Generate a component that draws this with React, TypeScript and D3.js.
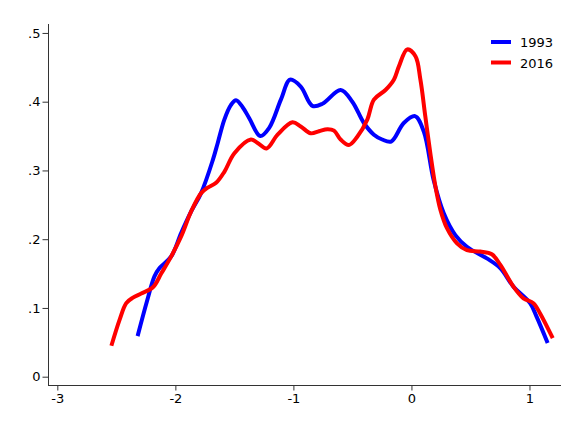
import { useRef, useEffect } from 'react';
import * as d3 from 'd3';

const X_1993 = [-2.32, -2.24, -2.177, -2.134, -2.035, -1.951, -1.867, -1.782, -1.683, -1.641, -1.585, -1.53, -1.486, -1.43, -1.374, -1.281, -1.205, -1.106, -1.028, -0.938, -0.839, -0.754, -0.6, -0.501, -0.403, -0.318, -0.248, -0.172, -0.065, 0.03, 0.104, 0.188, 0.273, 0.372, 0.47, 0.639, 0.752, 0.864, 1.005, 1.061, 1.154];
const Y_1993 = [0.059, 0.11, 0.146, 0.158, 0.175, 0.209, 0.24, 0.267, 0.315, 0.34, 0.374, 0.395, 0.402, 0.392, 0.376, 0.35, 0.362, 0.403, 0.432, 0.422, 0.394, 0.397, 0.417, 0.4, 0.369, 0.352, 0.345, 0.342, 0.369, 0.379, 0.357, 0.286, 0.238, 0.206, 0.189, 0.172, 0.158, 0.131, 0.107, 0.087, 0.049];

const X_2016 = [-2.542, -2.472, -2.416, -2.359, -2.289, -2.19, -2.12, -2.035, -1.951, -1.867, -1.782, -1.726, -1.655, -1.585, -1.5, -1.36, -1.303, -1.227, -1.134, -1.008, -0.938, -0.853, -0.783, -0.712, -0.656, -0.6, -0.53, -0.459, -0.374, -0.318, -0.22, -0.149, -0.107, -0.036, 0.034, 0.076, 0.118, 0.16, 0.203, 0.245, 0.301, 0.386, 0.47, 0.583, 0.681, 0.752, 0.864, 0.949, 1.033, 1.09, 1.197];
const Y_2016 = [0.045, 0.083, 0.107, 0.115, 0.121, 0.13, 0.15, 0.175, 0.204, 0.24, 0.267, 0.275, 0.282, 0.298, 0.325, 0.345, 0.34, 0.332, 0.352, 0.37, 0.364, 0.354, 0.357, 0.36, 0.358, 0.345, 0.337, 0.349, 0.374, 0.403, 0.417, 0.432, 0.451, 0.476, 0.466, 0.432, 0.378, 0.325, 0.277, 0.243, 0.216, 0.194, 0.184, 0.182, 0.178, 0.163, 0.131, 0.114, 0.107, 0.092, 0.056];

const SERIES = [
  { name: '1993', color: '#0000ff', xs: X_1993, ys: Y_1993 },
  { name: '2016', color: '#ff0000', xs: X_2016, ys: Y_2016 },
];

const X_TICKS = [-3, -2, -1, 0, 1];
const Y_TICKS = [0, 0.1, 0.2, 0.3, 0.4, 0.5];

export default function App() {
  const svgRef = useRef<SVGSVGElement>(null);
  const width = 568;
  const height = 421;

  useEffect(() => {
    const svg = d3.select(svgRef.current);
    svg.selectAll('*').remove();

    const x = d3.scaleLinear().domain([-3.079, 1.267]).range([48, 561]);
    const y = d3.scaleLinear().domain([-0.0131, 0.513]).range([385.7, 24]);

    svg.append('rect').attr('width', width).attr('height', height).attr('fill', '#fff');

    // axes
    const fmt = (d: number) => (d === 0 ? '0' : d3.format('.1f')(d).replace(/^0/, ''));
    svg.append('g')
      .attr('transform', 'translate(0,385.5)')
      .call(d3.axisBottom(x).tickValues(X_TICKS).tickSize(5).tickPadding(3).tickFormat((d) => String(d)))
      .call((g) => g.select('.domain').attr('stroke', '#333').attr('d', `M48,0H561`))
      .call((g) => g.selectAll('.tick line').attr('stroke', '#333'))
      .call((g) => g.selectAll('text').attr('fill', '#000').style('font-family', 'DejaVu Sans').style('font-size', '13px'));

    svg.append('g')
      .attr('transform', 'translate(48.5,0)')
      .call(d3.axisLeft(y).tickValues(Y_TICKS).tickSize(6).tickPadding(2).tickFormat((d) => fmt(+d)))
      .call((g) => g.select('.domain').attr('stroke', '#333').attr('d', `M0,24V385.7`))
      .call((g) => g.selectAll('.tick line').attr('stroke', '#333'))
      .call((g) => g.selectAll('text').attr('fill', '#000').style('font-family', 'DejaVu Sans').style('font-size', '13px'));

    // curves
    SERIES.forEach((s) => {
      const pts = s.xs.map((v, i) => [v, s.ys[i]] as [number, number]);
      const line = d3.line<[number, number]>()
        .x((d) => x(d[0]))
        .y((d) => y(d[1]))
        .curve(d3.curveCatmullRom.alpha(0.5));
      svg.append('path')
        .datum(pts)
        .attr('d', line)
        .attr('fill', 'none')
        .attr('stroke', s.color)
        .attr('stroke-width', 4)
        .attr('stroke-linejoin', 'round');
    });

    // legend
    const lg = svg.append('g').attr('transform', 'translate(491,42)');
    SERIES.forEach((s, i) => {
      lg.append('line')
        .attr('x1', 0).attr('x2', 20)
        .attr('y1', i * 20.5).attr('y2', i * 20.5)
        .attr('stroke', s.color).attr('stroke-width', 4);
      lg.append('text')
        .attr('x', 29).attr('y', i * 20.5 + 5)
        .attr('fill', '#000')
        .style('font-family', 'DejaVu Sans')
        .style('font-size', '13px')
        .text(s.name);
    });
  }, []);

  return (
    <div style={{ position: 'absolute', left: 0, top: 0 }}>
      <svg ref={svgRef} width={width} height={height} style={{ display: 'block' }} />
    </div>
  );
}
